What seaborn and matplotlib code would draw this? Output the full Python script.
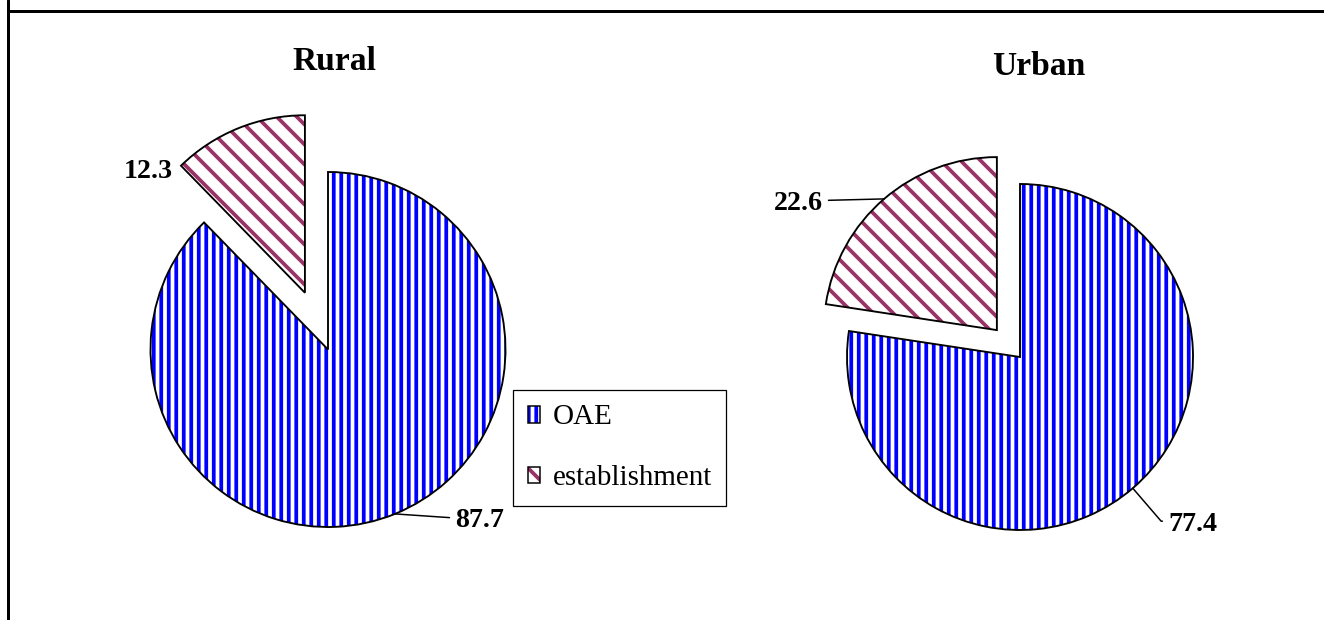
import numpy as np
import seaborn as sns
import matplotlib.pyplot as plt
from matplotlib.patches import Patch
from matplotlib.lines import Line2D
from matplotlib.legend_handler import HandlerTuple

# data
categories = ["OAE", "establishment"]
rural = [87.7, 12.3]
urban = [77.4, 22.6]
panel_titles = ["Rural", "Urban"]

# style
fill_colors = ["#0000FF", "#993366"]
hatches = ["||||", "\\\\\\"]
explode_rural = [0, 0.345]
explode_urban = [0, 0.205]

sns.set_theme(style="white")
plt.rcParams["font.family"] = ["Liberation Serif", "DejaVu Serif"]
plt.rcParams["text.color"] = "black"
plt.rcParams["hatch.linewidth"] = 1.5

DPI = 180
W, H = 1324, 620
fig = plt.figure(figsize=(W / DPI, H / DPI), dpi=DPI)
fig.patch.set_facecolor("white")

L = 1.7


def add_pie_axes(cx, cy, r):
    # cx, cy, r in pixels (y from top)
    size = 2 * L * r
    ax = fig.add_axes([(cx - size / 2) / W, (H - cy - size / 2) / H, size / W, size / H])
    return ax


def draw_pie(ax, values, explode):
    wedges, _ = ax.pie(values, explode=explode, startangle=90, counterclock=False,
                       colors=["white", "white"], hatch=hatches,
                       wedgeprops=dict(linewidth=0))
    for w, c in zip(wedges, fill_colors):
        w.set_edgecolor(c)
    ax.pie(values, explode=explode, startangle=90, counterclock=False,
           wedgeprops=dict(facecolor="none", edgecolor="black", linewidth=0.75))
    ax.set_xlim(-L, L)
    ax.set_ylim(-L, L)
    ax.set_aspect("equal")
    ax.set_axis_off()
    return wedges


def anchor(w):
    t = np.deg2rad((w.theta1 + w.theta2) / 2)
    cx, cy = w.center
    return (cx + w.r * np.cos(t), cy + w.r * np.sin(t)), np.rad2deg(t)


lab_kw = dict(fontsize=11.2, fontweight="bold", va="baseline", color="black")
arr_kw = dict(arrowstyle="-", color="black", lw=0.6, shrinkA=0, shrinkB=0)

# Rural
ax1 = add_pie_axes(328, 349.5, 177.5)
w1 = draw_pie(ax1, rural, explode_rural)
p, ang = anchor(w1[0])
ax1.annotate(f"{rural[0]:.1f}", xy=p, xytext=(0.7155, -1.0), ha="left",
             arrowprops=dict(relpos=(0, 0.6), **arr_kw), **lab_kw)
ax1.text(-0.873, 0.966, f"{rural[1]:.1f}", ha="right", **lab_kw)

# Urban
ax2 = add_pie_axes(1020, 357, 173)
w2 = draw_pie(ax2, urban, explode_urban)
p, ang = anchor(w2[0])
ax2.annotate(f"{urban[0]:.1f}", xy=p, xytext=(0.855, -1.004), ha="left",
             arrowprops=dict(relpos=(0, 0.62),
                             connectionstyle=f"angle,angleA=0,angleB={ang:.1f},rad=0",
                             **arr_kw), **lab_kw)
p, ang = anchor(w2[1])
ax2.annotate(f"{urban[1]:.1f}", xy=p, xytext=(-1.139, 0.850), ha="right",
             arrowprops=dict(relpos=(1, 0.62), **arr_kw), **lab_kw)

# titles
fig.text(334.5 / W, 1 - 70 / H, panel_titles[0], ha="center", va="baseline",
         fontsize=13.4, fontweight="bold", color="black")
fig.text(1039 / W, 1 - 75 / H, panel_titles[1], ha="center", va="baseline",
         fontsize=13.4, fontweight="bold", color="black")

# legend
handles = []
for c, h in zip(fill_colors, hatches):
    handles.append((Patch(facecolor="white", edgecolor=c, hatch=h, linewidth=0),
                    Patch(facecolor="none", edgecolor="black", linewidth=0.6)))
leg = fig.legend(handles, categories, handler_map={tuple: HandlerTuple(ndivide=1, pad=0)},
                 loc="upper left", bbox_to_anchor=(513 / W, 1 - 390 / H),
                 bbox_transform=fig.transFigure, borderaxespad=0,
                 fontsize=11.6, handlelength=0.42, handleheight=0.52,
                 handletextpad=0.45, labelspacing=1.2, borderpad=0.5,
                 fancybox=False, framealpha=1, edgecolor="black")
leg.get_frame().set_linewidth(0.5)
for t in leg.get_texts():
    t.set_color("black")

# border lines
fig.add_artist(Line2D([7.5 / W, 7.5 / W], [0, 1], transform=fig.transFigure,
                      color="black", lw=1.2))
fig.add_artist(Line2D([7.5 / W, 1], [1 - 10.5 / H, 1 - 10.5 / H], transform=fig.transFigure,
                      color="black", lw=1.2))

fig.savefig("out.png", dpi=DPI)
